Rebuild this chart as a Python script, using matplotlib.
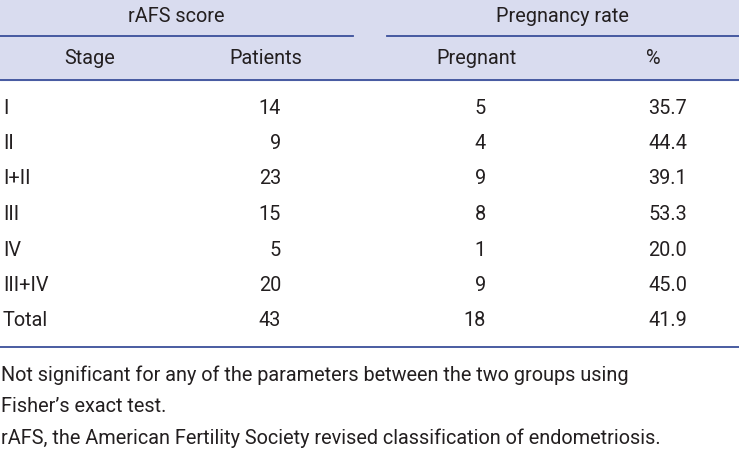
import matplotlib
matplotlib.use("Agg")
import matplotlib.pyplot as plt
from matplotlib.patches import Rectangle

stages = ["I", "II", "I+II", "III", "IV", "III+IV", "Total"]
patients = [14, 9, 23, 15, 5, 20, 43]
pregnant = [5, 4, 9, 8, 1, 9, 18]
percent = ["35.7", "44.4", "39.1", "53.3", "20.0", "45.0", "41.9"]
notes = ["Not significant for any of the parameters between the two groups using",
         "Fisher’s exact test.",
         "rAFS, the American Fertility Society revised classification of endometriosis."]

FAM = ["Roboto", "DejaVu Sans"]
W, H = 739, 455
fig = plt.figure(figsize=(W/100, H/100), dpi=100)
ax = fig.add_axes([0, 0, 1, 1])
ax.set_xlim(0, W); ax.set_ylim(H, 0); ax.axis("off")
blue = "#3a4f9a"
ax.add_patch(Rectangle((0, 0), W, 80, color="#d9dcef", zorder=0))
ax.plot([0, 353], [36, 36], color=blue, lw=1.3)
ax.plot([387, W], [36, 36], color=blue, lw=1.3)
ax.plot([0, W], [80, 80], color=blue, lw=1.3)
ax.plot([0, W], [347, 347], color=blue, lw=1.3)
fs = 14.3
kw = dict(fontsize=fs, family=FAM, color="#231f20", va="center")
ax.text(176, 17, "rAFS score", ha="center", **kw)
ax.text(562, 17, "Pregnancy rate", ha="center", **kw)
ax.text(90, 59, "Stage", ha="center", **kw)
ax.text(266, 59, "Patients", ha="center", **kw)
ax.text(476, 59, "Pregnant", ha="center", **kw)
ax.text(653, 59, "%", ha="center", **kw)
for i in range(len(stages)):
    y = 108 + i*35.5
    ax.text(3, y, stages[i], ha="left", **kw)
    ax.text(281, y, str(patients[i]), ha="right", **kw)
    ax.text(486, y, str(pregnant[i]), ha="right", **kw)
    ax.text(687, y, percent[i], ha="right", **kw)
for j, n in enumerate(notes):
    ax.text(1, 375 + j*31.5, n, ha="left", **kw)
fig.savefig("out.png", dpi=100)
